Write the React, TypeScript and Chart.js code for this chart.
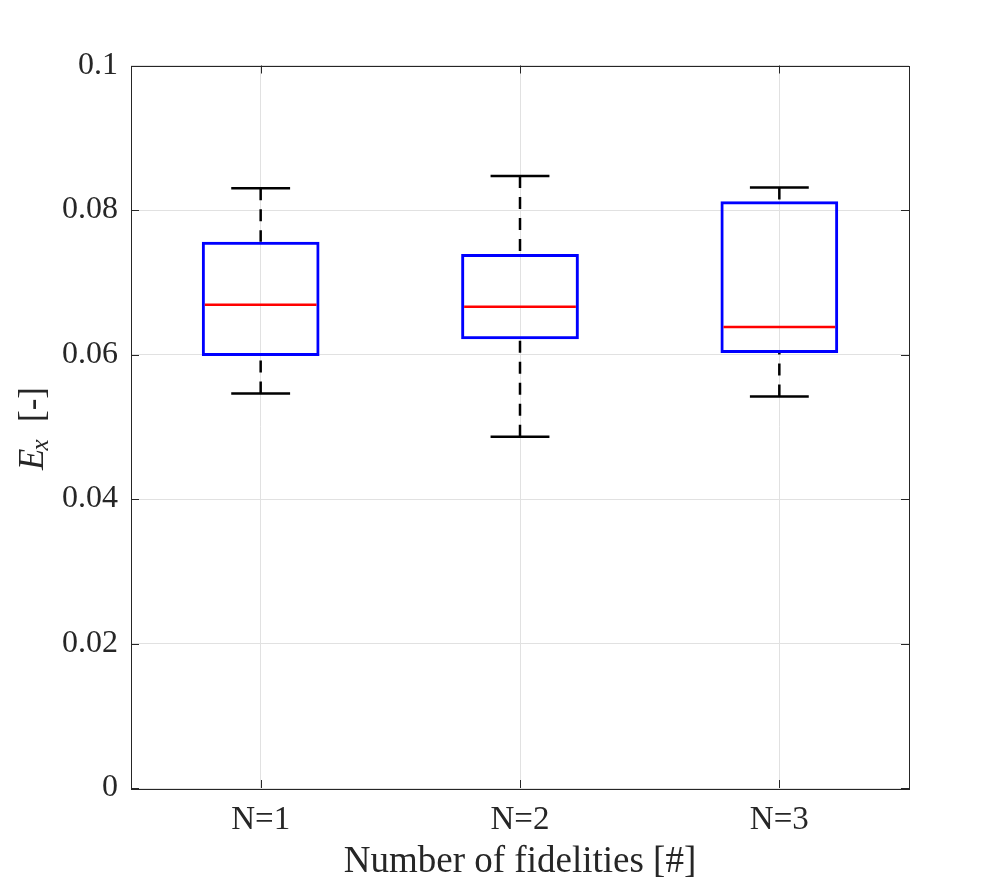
import * as React from "react";
import { useEffect, useRef } from "react";
import { Chart, registerables } from "chart.js";

const categories = ["N=1", "N=2", "N=3"];
const whiskerLow = [0.0546, 0.0486, 0.0542];
const q1 = [0.0598, 0.0621, 0.0602];
const median = [0.0669, 0.0666, 0.0638];
const q3 = [0.0756, 0.0739, 0.0812];
const whiskerHigh = [0.0830, 0.0847, 0.0831];

const yMin = 0;
const yMax = 0.1;
const yStep = 0.02;

const AXIS = "#262626";
const SERIF = "'Liberation Serif', 'DejaVu Serif', serif";

// whiskers, caps and medians drawn on top of the floating bars
const boxExtras = {
    id: "boxExtras",
    afterDatasetsDraw(chart: any) {
        const { ctx, scales } = chart;
        const meta = chart.getDatasetMeta(0);
        const y = scales.y;
        ctx.save();
        meta.data.forEach((bar: any, i: number) => {
            const { x, width } = bar.getProps(["x", "width"], true);
            const yLo = y.getPixelForValue(whiskerLow[i]);
            const yQ1 = y.getPixelForValue(q1[i]);
            const yQ3 = y.getPixelForValue(q3[i]);
            const yHi = y.getPixelForValue(whiskerHigh[i]);
            const yMed = y.getPixelForValue(median[i]);

            ctx.strokeStyle = "#000000";
            ctx.lineWidth = 2.5;
            ctx.setLineDash([12, 9]);
            ctx.beginPath();
            ctx.moveTo(x, yHi);
            ctx.lineTo(x, yQ3);
            ctx.moveTo(x, yLo);
            ctx.lineTo(x, yQ1);
            ctx.stroke();

            ctx.setLineDash([]);
            const cap = width / 4;
            ctx.beginPath();
            ctx.moveTo(x - cap, yHi);
            ctx.lineTo(x + cap, yHi);
            ctx.moveTo(x - cap, yLo);
            ctx.lineTo(x + cap, yLo);
            ctx.stroke();

            ctx.strokeStyle = "#ff0000";
            ctx.beginPath();
            ctx.moveTo(x - width / 2 + 3, yMed);
            ctx.lineTo(x + width / 2 - 3, yMed);
            ctx.stroke();
        });
        ctx.restore();
    },
};

// MATLAB style box: frame on four sides, ticks pointing inward
const axesFrame = {
    id: "axesFrame",
    afterDraw(chart: any) {
        const { ctx, chartArea: a, scales } = chart;
        const len = 8;
        ctx.save();
        ctx.strokeStyle = AXIS;
        ctx.lineWidth = 1;
        ctx.beginPath();
        scales.y.ticks.forEach((t: any) => {
            const py = Math.round(scales.y.getPixelForValue(t.value)) + 0.5;
            ctx.moveTo(a.left, py);
            ctx.lineTo(a.left + len, py);
            ctx.moveTo(a.right, py);
            ctx.lineTo(a.right - len, py);
        });
        scales.x.ticks.forEach((_t: any, i: number) => {
            const px = Math.round(scales.x.getPixelForValue(i)) + 0.5;
            ctx.moveTo(px, a.bottom);
            ctx.lineTo(px, a.bottom - len);
            ctx.moveTo(px, a.top);
            ctx.lineTo(px, a.top + len);
        });
        ctx.stroke();
        ctx.strokeRect(Math.round(a.left) + 0.5, Math.round(a.top) + 0.5,
            Math.round(a.right - a.left), Math.round(a.bottom - a.top));

        // y axis label: italic E with subscript x, then [-]
        ctx.fillStyle = AXIS;
        ctx.translate(43, 470);
        ctx.rotate(-Math.PI / 2);
        ctx.textBaseline = "alphabetic";
        ctx.textAlign = "left";
        ctx.font = "italic 35px " + SERIF;
        ctx.fillText("E", 0, 0);
        let w = ctx.measureText("E").width;
        ctx.font = "italic 25px " + SERIF;
        ctx.fillText("x", w - 2, 5);
        w += ctx.measureText("x").width - 2;
        ctx.font = "35px " + SERIF;
        ctx.fillText("  [-]", w, 0);
        ctx.restore();
    },
};

function BoxChart() {
    const canvasRef = useRef<HTMLCanvasElement>(null);
    useEffect(() => {
        const ctx = canvasRef.current?.getContext("2d");
        Chart.register(...registerables);

        const chart = new Chart(ctx as any, {
            type: "bar",
            data: {
                labels: categories,
                datasets: [{
                    data: q1.map((v, i) => [v, q3[i]]) as any,
                    backgroundColor: "rgba(0,0,0,0)",
                    borderColor: "#0000ff",
                    borderWidth: 3,
                    borderSkipped: false,
                    barPercentage: 0.454,
                    categoryPercentage: 1,
                }],
            },
            options: {
                animation: false,
                responsive: true,
                maintainAspectRatio: false,
                layout: { padding: { left: 0, top: 65.5, right: 95, bottom: 0 } },
                plugins: { legend: { display: false }, tooltip: { enabled: false } },
                scales: {
                    x: {
                        grid: { offset: false, color: "#e1e1e1", drawTicks: false },
                        border: { display: false },
                        ticks: { color: AXIS, font: { family: SERIF, size: 33 }, padding: 13 },
                        title: {
                            display: true,
                            text: "Number of fidelities [#]",
                            color: AXIS,
                            font: { family: SERIF, size: 37 },
                            padding: { top: 0, bottom: 2 },
                        },
                        afterFit: (s: any) => { s.height = 98; },
                    },
                    y: {
                        min: yMin,
                        max: yMax,
                        grid: { color: "#e1e1e1", drawTicks: false },
                        border: { display: false },
                        ticks: {
                            stepSize: yStep,
                            color: AXIS,
                            font: { family: SERIF, size: 32 },
                            padding: 13,
                            callback: (v: any) => String(+Number(v).toFixed(2)),
                        },
                        afterFit: (s: any) => { s.width = 131; },
                    },
                },
            },
            plugins: [boxExtras, axesFrame],
        });

        return () => {
            chart.destroy();
        };
    }, []);

    return (
        <div style={{ position: "fixed", left: 0, top: 0, width: 1004, height: 886, background: "#ffffff" }}>
            <canvas ref={canvasRef}></canvas>
        </div>
    );
}

export default function App() {
    return <BoxChart />;
}
